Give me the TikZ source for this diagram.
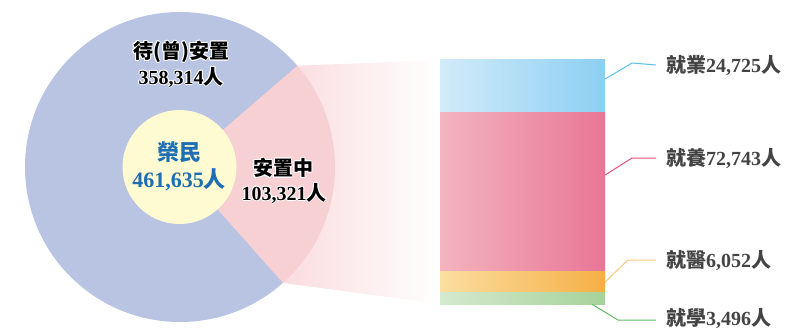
\documentclass[tikz,border=0pt]{standalone}
\usepackage{fontspec}
\setmainfont{Liberation Serif}
\newfontfamily\cjk{Noto Sans CJK TC}
\newcommand\C[1]{{\cjk #1}}
\newcommand\hcopy[3]{\rlap{\hspace*{#1}\raisebox{#2}{\color{white}#3}}}
\newcommand\halo[1]{\hcopy{-1pt}{0pt}{#1}\hcopy{1pt}{0pt}{#1}\hcopy{0pt}{1pt}{#1}\hcopy{0pt}{-1pt}{#1}\hcopy{-.75pt}{.75pt}{#1}\hcopy{.75pt}{.75pt}{#1}\hcopy{-.75pt}{-.75pt}{#1}\hcopy{.75pt}{-.75pt}{#1}#1}
\definecolor{bigc}{RGB}{185,196,227}
\definecolor{yelc}{RGB}{254,250,210}
\definecolor{sectc}{RGB}{247,208,212}
\definecolor{trapc}{RGB}{250,220,223}
\definecolor{blueL}{RGB}{210,235,250}
\definecolor{blueR}{RGB}{140,207,242}
\definecolor{pinkL}{RGB}{243,180,190}
\definecolor{pinkR}{RGB}{232,118,150}
\definecolor{oraL}{RGB}{251,222,160}
\definecolor{oraR}{RGB}{245,175,70}
\definecolor{grnL}{RGB}{212,233,206}
\definecolor{grnR}{RGB}{166,210,154}
\definecolor{lblue}{RGB}{90,190,235}
\definecolor{lpink}{RGB}{225,80,120}
\definecolor{lora}{RGB}{250,200,120}
\definecolor{lgrn}{RGB}{100,185,100}
\definecolor{txtgray}{RGB}{68,68,68}
\definecolor{txtblue}{RGB}{30,110,180}
\tikzset{
  ctext/.style={inner sep=0pt, font=\bfseries\fontsize{20}{24}\selectfont, text=black},
  midtext/.style={inner sep=0pt, font=\bfseries\fontsize{22}{26}\selectfont, text=txtblue},
  rtext/.style={inner sep=0pt, anchor=west, font=\bfseries\fontsize{20}{24}\selectfont, text=txtgray},
  barbox/.style={inner sep=0pt, minimum width=165pt, draw=none},
  leader/.style={line width=1pt}
}
\begin{document}
\begin{tikzpicture}[x=1pt,y=-1pt]
\useasboundingbox (0,0) rectangle (790,329);
% big circle
\fill[bigc] (180,167) circle (155);
% fading trapezoid
\shade[left color=trapc, right color=white] (297.3,65.7) -- (440,60) -- (440,304) -- (282.9,282.9) -- cycle;
% sector
\fill[sectc] (180,167) -- +(-40.8:155) arc[start angle=-40.8, end angle=48.4, radius=155] -- cycle;
% inner circle
\fill[yelc] (179.5,167) circle (57);
% bars
\node[barbox, minimum height=52pt, left color=blueL, right color=blueR] (bjob) at (522.5,86) {};
\node[barbox, minimum height=159pt, left color=pinkL, right color=pinkR] (bcare) at (522.5,191.5) {};
\node[barbox, minimum height=21pt, left color=oraL, right color=oraR] (bmed) at (522.5,281.5) {};
\node[barbox, minimum height=12pt, left color=grnL, right color=grnR] (bedu) at (522.5,298) {};
% texts on circle
\node[ctext] (t1) at (181,52) {\halo{\C{待(曾)安置}}};
\node[ctext] (t2) at (181,77) {\halo{358,314\C{人}}};
\node[midtext] (m1) at (179,152) {\C{榮民}};
\node[midtext] (m2) at (179,180) {461,635\C{人}};
\node[ctext] (s1) at (283,168) {\halo{\C{安置中}}};
\node[ctext] (s2) at (284,193) {\halo{103,321\C{人}}};
% right labels
\node[rtext] (ljob) at (666,65) {\C{就業}24,725\C{人}};
\node[rtext] (lcare) at (666,158) {\C{就養}72,743\C{人}};
\node[rtext] (lmed) at (666,260) {\C{就醫}6,052\C{人}};
\node[rtext] (ledu) at (666,318) {\C{就學}3,496\C{人}};
% leaders
\coordinate (kjob) at (632,63);
\coordinate (kcare) at (632,158);
\coordinate (kmed) at (628,260);
\coordinate (kedu) at (618,320);
\draw[leader, lblue] (bjob.east |- 0,79) -- (kjob) -- (ljob.west -| 656,0);
\draw[leader, lpink] (bcare.east |- 0,175) -- (kcare) -- (lcare.west -| 656,0);
\draw[leader, lora] (bmed.east |- 0,282) -- (kmed) -- (lmed.west -| 656,0);
\draw[leader, lgrn] (bedu.south -| 592,0) -- (kedu) -- (kedu -| 656,0);
\end{tikzpicture}
\end{document}
